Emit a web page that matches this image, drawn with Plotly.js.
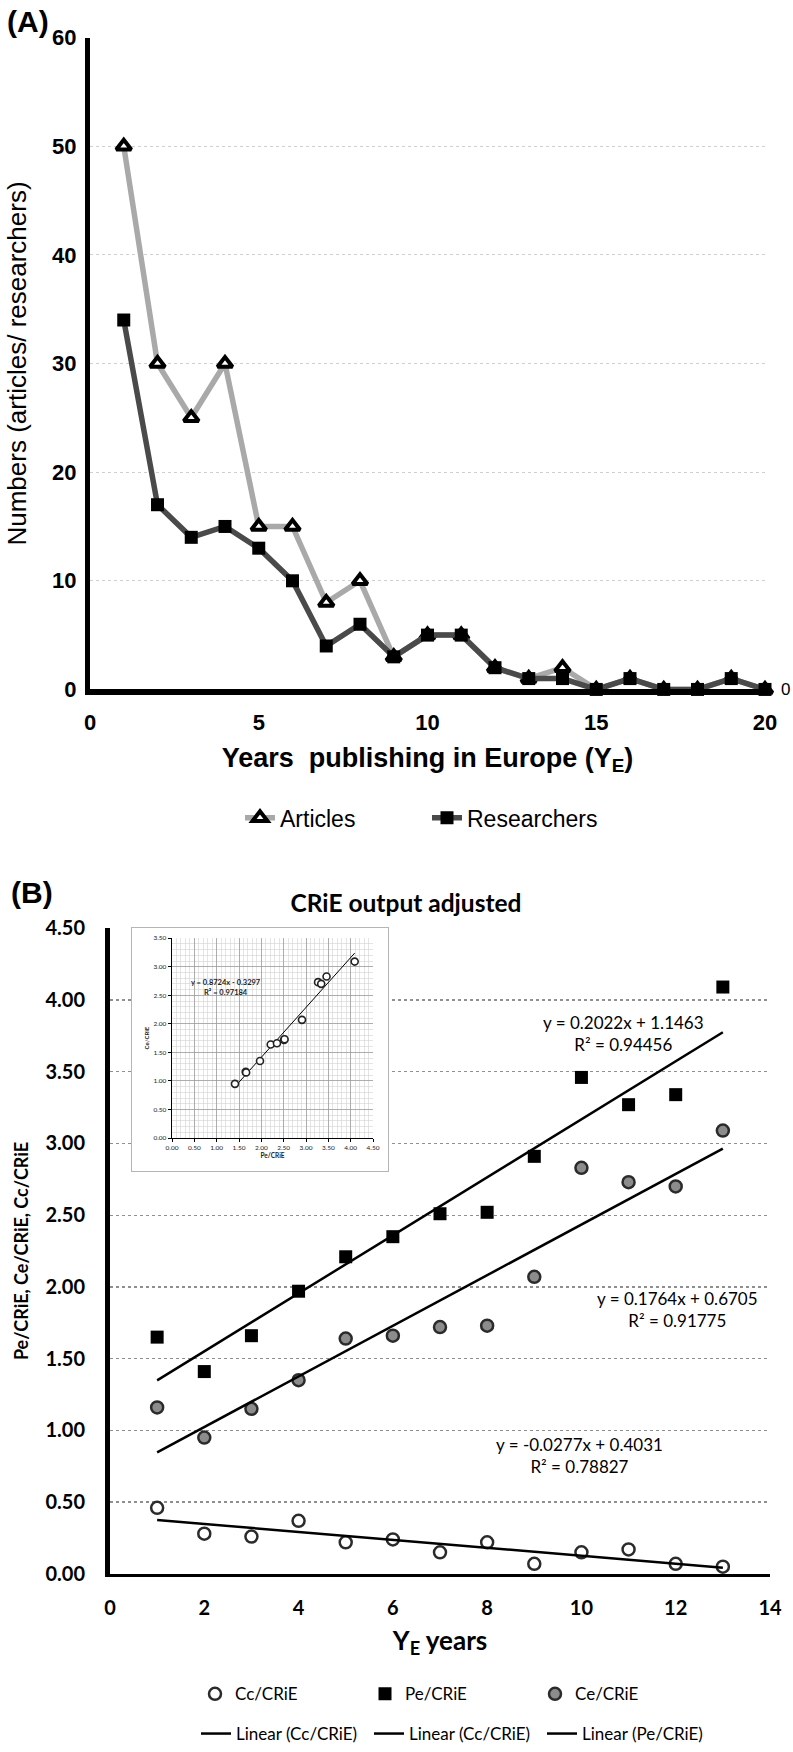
<!DOCTYPE html>
<html>
<head>
<meta charset="utf-8">
<script src="https://cdn.plot.ly/plotly-3.0.1.min.js"></script>
<style>
html,body{margin:0;padding:0;background:#fff;}
#chart{width:793px;height:1752px;}
</style>
</head>
<body>
<div id="chart"></div>
<script>
// ---------- Panel A data ----------
const yearsA = [1,2,3,4,5,6,7,8,9,10,11,12,13,14,15,16,17,18,19,20];
const articles = [50,30,25,30,15,15,8,10,3,5,5,2,1,2,0,1,0,0,1,0];
const researchers = [34,17,14,15,13,10,4,6,3,5,5,2,1,1,0,1,0,0,1,0];
const tickValsAx = [0,5,10,15,20];
const tickValsAy = [0,10,20,30,40,50,60];

// ---------- Panel B data ----------
const yearsB = [1,2,3,4,5,6,7,8,9,10,11,12,13];
const peCRiE = [1.65,1.41,1.66,1.97,2.21,2.35,2.51,2.52,2.91,3.46,3.27,3.34,4.09];
const ceCRiE = [1.16,0.95,1.15,1.35,1.64,1.66,1.72,1.73,2.07,2.83,2.73,2.70,3.09];
const ccCRiE = [0.46,0.28,0.26,0.37,0.22,0.24,0.15,0.22,0.07,0.15,0.17,0.07,0.05];
const tickValsBx = [0,2,4,6,8,10,12,14];
const tickValsBy = [0,0.5,1,1.5,2,2.5,3,3.5,4,4.5];

// trendlines (order: Cc, Ce, Pe) as printed on the chart
const trendLabels = ['Linear (Cc/CRiE)','Linear (Cc/CRiE)','Linear (Pe/CRiE)'];
const trendSlopes = [-0.0277, 0.1764, 0.2022];
const trendIntercepts = [0.4031, 0.6705, 1.1463];
const trendR2 = ['0.78827','0.91775','0.94456'];

// inset (Ce/CRiE vs Pe/CRiE) regression
const insetSlope = [0.8724];
const insetIntercept = [-0.3297];
const insetR2 = ['0.97184'];

// ---------- helpers ----------
const W = 793, H = 1752;
const px = x => x / W;
const py = y => 1 - y / H;
const eq = (s, b) => 'y = ' + s.toFixed(4) + 'x ' + (b < 0 ? '- ' : '+ ') + Math.abs(b).toFixed(4);
const line = (s, b, xs) => xs.map(x => s * x + b);

const fA = 'Liberation Sans, Arial, sans-serif';
const fB = 'Lato, Open Sans, sans-serif';

const xB0 = yearsB[0], xB1 = yearsB[yearsB.length - 1];
const peMin = Math.min(...peCRiE), peMax = Math.max(...peCRiE);
const lastA = yearsA.length - 1;

const traces = [
  // Panel A
  {x: yearsA, y: articles, name: 'Articles', type: 'scatter', mode: 'lines+markers',
   xaxis: 'x', yaxis: 'y', legend: 'legend', cliponaxis: false,
   line: {color: '#a9a9a9', width: 5.5},
   marker: {symbol: 'triangle-up', size: 13, color: '#ffffff', line: {color: '#000000', width: 4}}},
  {x: yearsA, y: researchers, name: 'Researchers', type: 'scatter', mode: 'lines+markers',
   xaxis: 'x', yaxis: 'y', legend: 'legend', cliponaxis: false,
   line: {color: '#4a4a4a', width: 5.5},
   marker: {symbol: 'square', size: 13, color: '#000000'}},

  // Panel B markers
  {x: yearsB, y: ccCRiE, name: 'Cc/CRiE', type: 'scatter', mode: 'markers',
   xaxis: 'x2', yaxis: 'y2', legend: 'legend2', cliponaxis: false,
   marker: {symbol: 'circle', size: 12, color: '#ffffff', line: {color: '#2b2b2b', width: 2.5}}},
  {x: yearsB, y: peCRiE, name: 'Pe/CRiE', type: 'scatter', mode: 'markers',
   xaxis: 'x2', yaxis: 'y2', legend: 'legend2', cliponaxis: false,
   marker: {symbol: 'square', size: 13, color: '#000000'}},
  {x: yearsB, y: ceCRiE, name: 'Ce/CRiE', type: 'scatter', mode: 'markers',
   xaxis: 'x2', yaxis: 'y2', legend: 'legend2', cliponaxis: false,
   marker: {symbol: 'circle', size: 12, color: '#8c8c8c', line: {color: '#2b2b2b', width: 2.5}}}
];

// Panel B trendlines
for (let i = 0; i < trendSlopes.length; i++) {
  traces.push({x: [xB0, xB1], y: line(trendSlopes[i], trendIntercepts[i], [xB0, xB1]),
    name: trendLabels[i], type: 'scatter', mode: 'lines', xaxis: 'x2', yaxis: 'y2',
    legend: 'legend3', line: {color: '#000000', width: 2.5}, hoverinfo: 'skip'});
}

// inset frame subplot (empty)
traces.push({x: [], y: [], type: 'scatter', mode: 'markers', xaxis: 'x3', yaxis: 'y3',
  showlegend: false, hoverinfo: 'skip'});
// inset data
traces.push({x: [peMin, peMax], y: line(insetSlope[0], insetIntercept[0], [peMin, peMax]),
  type: 'scatter', mode: 'lines', xaxis: 'x4', yaxis: 'y4', showlegend: false,
  line: {color: '#000', width: 1}, hoverinfo: 'skip'});
traces.push({x: peCRiE, y: ceCRiE, type: 'scatter', mode: 'markers', xaxis: 'x4', yaxis: 'y4',
  showlegend: false, marker: {symbol: 'circle', size: 7, color: '#ffffff', line: {color: '#222', width: 1.6}}});

const layout = {
  width: W, height: H,
  margin: {l: 0, r: 0, t: 0, b: 0, pad: 0},
  paper_bgcolor: '#ffffff', plot_bgcolor: '#ffffff',
  font: {family: fA, color: '#000'},
  title: {text: '<b>CRiE output adjusted</b>', font: {family: fB, size: 24.5, color: '#000'},
          x: px(406), xanchor: 'center', y: py(903), yanchor: 'middle'},

  // Panel A axes
  xaxis: {domain: [px(90), px(765)], range: [0, 20], anchor: 'y', tickvals: tickValsAx,
    showgrid: false, zeroline: false, showline: true, linecolor: '#000', linewidth: 6,
    ticks: '', ticklabelstandoff: 8,
    tickfont: {family: fA, size: 22, weight: 'bold', color: '#000'},
    title: {text: 'Years  publishing in Europe (Y<sub>E</sub>)', standoff: 16,
            font: {family: fA, size: 27, weight: 'bold', color: '#000'}}},
  yaxis: {domain: [py(693), py(37.7)], range: [0, 60], anchor: 'x', tickvals: tickValsAy,
    showgrid: true, gridcolor: '#cfcfcf', griddash: 'dot', gridwidth: 1,
    zeroline: false, showline: true, linecolor: '#000', linewidth: 5,
    ticks: '', ticklabelstandoff: 4,
    tickfont: {family: fA, size: 22, weight: 'bold', color: '#000'},
    title: {text: 'Numbers (articles/ researchers)', standoff: 20,
            font: {family: fA, size: 26, color: '#000'}}},

  // Panel B axes
  xaxis2: {domain: [px(110), px(770)], range: [0, 14], anchor: 'y2', tickvals: tickValsBx,
    showgrid: false, zeroline: false, showline: true, linecolor: '#000', linewidth: 3.5,
    ticks: '', ticklabelstandoff: 14,
    tickfont: {family: fB, size: 20, weight: 'bold', color: '#000'},
    title: {text: 'Y<sub>E</sub> years', standoff: 14,
            font: {family: fB, size: 26, weight: 'bold', color: '#000'}}},
  yaxis2: {domain: [py(1582), py(933)], range: [0, 4.5], anchor: 'x2', tickvals: tickValsBy,
    tickformat: '.2f', showgrid: true, gridcolor: '#8f8f8f', griddash: 'dot', gridwidth: 1.3,
    zeroline: false, showline: true, linecolor: '#000', linewidth: 5,
    ticks: '', ticklabelstandoff: 16,
    tickfont: {family: fB, size: 20, weight: 'bold', color: '#000'},
    title: {text: 'Pe/CRiE, Ce/CRiE, Cc/CRiE', standoff: 14,
            font: {family: fB, size: 18, weight: 'bold', color: '#000'}}},

  // inset frame
  xaxis3: {domain: [px(132), px(388)], range: [0, 1], anchor: 'y3', showgrid: false,
    zeroline: false, showticklabels: false, ticks: '', showline: true, mirror: true,
    linecolor: '#b5b5b5', linewidth: 1.2, fixedrange: true},
  yaxis3: {domain: [py(1177), py(933)], range: [0, 1], anchor: 'x3', showgrid: false,
    zeroline: false, showticklabels: false, ticks: '', showline: true, mirror: true,
    linecolor: '#b5b5b5', linewidth: 1.2, fixedrange: true},

  // inset axes
  xaxis4: {domain: [px(172), px(373)], range: [0, 4.5], anchor: 'y4', dtick: 0.5, tick0: 0,
    tickformat: '.2f', showgrid: true, gridcolor: '#9a9a9a', gridwidth: 0.8,
    minor: {dtick: 0.1, showgrid: true, gridcolor: '#d2d2d2', gridwidth: 0.6},
    zeroline: false, showline: true, linecolor: '#000', linewidth: 1.3,
    ticks: 'outside', ticklen: 3, tickwidth: 1, tickcolor: '#000',
    tickfont: {family: fB, size: 6.5, color: '#222'},
    title: {text: 'Pe/CRiE', standoff: 3, font: {family: fB, size: 6.5, weight: 'bold', color: '#222'}}},
  yaxis4: {domain: [py(1144), py(943)], range: [0, 3.5], anchor: 'x4', dtick: 0.5, tick0: 0,
    tickformat: '.2f', showgrid: true, gridcolor: '#9a9a9a', gridwidth: 0.8,
    minor: {dtick: 0.1, showgrid: true, gridcolor: '#d2d2d2', gridwidth: 0.6},
    zeroline: false, showline: true, linecolor: '#000', linewidth: 1.3,
    ticks: 'outside', ticklen: 3, tickwidth: 1, tickcolor: '#000',
    tickfont: {family: fB, size: 6.5, color: '#222'},
    title: {text: 'Ce/CRiE', standoff: 3, font: {family: fB, size: 6, weight: 'bold', color: '#222'}}},

  legend: {orientation: 'h', x: px(240), xanchor: 'left', y: py(822), yanchor: 'middle',
    font: {family: fA, size: 23, color: '#000'}, bgcolor: 'rgba(0,0,0,0)',
    entrywidth: 142, entrywidthmode: 'pixels', traceorder: 'normal'},
  legend2: {orientation: 'h', x: px(195), xanchor: 'left', y: py(1703), yanchor: 'middle',
    font: {family: fB, size: 17, color: '#000'}, bgcolor: 'rgba(0,0,0,0)',
    entrywidth: 125, entrywidthmode: 'pixels', traceorder: 'normal'},
  legend3: {orientation: 'h', x: px(196), xanchor: 'left', y: py(1743), yanchor: 'middle',
    font: {family: fB, size: 17, color: '#000'}, bgcolor: 'rgba(0,0,0,0)',
    entrywidth: 128, entrywidthmode: 'pixels', traceorder: 'normal'},

  annotations: [
    // data label of the last point of panel A
    {text: String(researchers[lastA]), xref: 'x', yref: 'y', x: yearsA[lastA], y: researchers[lastA],
     xshift: 20, xanchor: 'center', yanchor: 'middle', showarrow: false,
     font: {family: fA, size: 17, color: '#000'}},
    {text: '<b>(A)</b>', xref: 'paper', yref: 'paper', x: px(28), y: py(22),
     xanchor: 'center', yanchor: 'middle', showarrow: false, font: {family: fA, size: 30, color: '#000'}},
    {text: '<b>(B)</b>', xref: 'paper', yref: 'paper', x: px(32), y: py(897),
     xanchor: 'center', yanchor: 'middle', showarrow: false, font: {family: fA, size: 30, color: '#000'}},
    {text: eq(trendSlopes[2], trendIntercepts[2]) + '<br>R² = ' + trendR2[2],
     xref: 'paper', yref: 'paper', x: px(623), y: py(1039), xanchor: 'center', yanchor: 'middle',
     showarrow: false, font: {family: fB, size: 17, color: '#000'}},
    {text: eq(trendSlopes[1], trendIntercepts[1]) + '<br>R² = ' + trendR2[1],
     xref: 'paper', yref: 'paper', x: px(677), y: py(1316), xanchor: 'center', yanchor: 'middle',
     showarrow: false, font: {family: fB, size: 17, color: '#000'}},
    {text: eq(trendSlopes[0], trendIntercepts[0]) + '<br>R² = ' + trendR2[0],
     xref: 'paper', yref: 'paper', x: px(579), y: py(1463), xanchor: 'center', yanchor: 'middle',
     showarrow: false, font: {family: fB, size: 17, color: '#000'}},
    {text: '<b>' + eq(insetSlope[0], insetIntercept[0]) + '<br>R² = ' + insetR2[0] + '</b>',
     xref: 'paper', yref: 'paper', x: px(226), y: py(993), xanchor: 'center', yanchor: 'middle',
     showarrow: false, font: {family: fB, size: 7.5, color: '#222'}}
  ]
};

Plotly.newPlot('chart', traces, layout, {staticPlot: true, displayModeBar: false});
</script>
</body>
</html>
